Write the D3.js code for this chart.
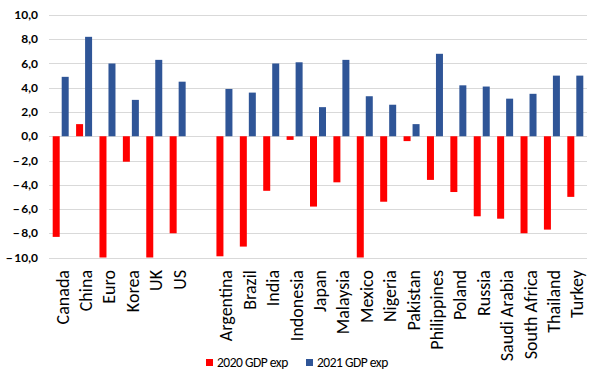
<!DOCTYPE html>
<html>
<head>
<meta charset="utf-8">
<script src="https://cdn.jsdelivr.net/npm/d3@7"></script>
<style>
  html, body { margin: 0; padding: 0; background: #fff; }
  svg { display: block; }
</style>
</head>
<body>
<svg id="chart" width="590" height="383"></svg>
<script>
const categories = ["Canada","China","Euro","Korea","UK","US","","Argentina","Brazil","India","Indonesia","Japan","Malaysia","Mexico","Nigeria","Pakistan","Philippines","Poland","Russia","Saudi Arabia","South Africa","Thailand","Turkey"];
const gdp2020 = [-8.3, 1.0, -10.0, -2.1, -10.0, -8.0, null, -9.9, -9.1, -4.5, -0.3, -5.8, -3.8, -10.0, -5.4, -0.4, -3.6, -4.6, -6.6, -6.8, -8.0, -7.7, -5.0];
const gdp2021 = [4.9, 8.2, 6.0, 3.0, 6.3, 4.5, null, 3.9, 3.6, 6.0, 6.1, 2.4, 6.3, 3.3, 2.6, 1.0, 6.8, 4.2, 4.1, 3.1, 3.5, 5.0, 5.0];
const seriesNames = ["2020 GDP exp", "2021 GDP exp"];
const seriesColors = ["#FF0000", "#2F5597"];
const yTicks = [-10, -8, -6, -4, -2, 0, 2, 4, 6, 8, 10];

const svg = d3.select("#chart");
const plotLeft = 49, plotRight = 587, plotTop = 15, plotBottom = 257.5;

const x0 = d3.scaleBand().domain(d3.range(categories.length)).range([plotLeft, plotRight])
  .paddingInner(0.316).paddingOuter(0.158);
const x1 = d3.scaleBand().domain([0, 1]).range([0, x0.bandwidth()]).paddingInner(0.222).paddingOuter(0);
const y = d3.scaleLinear().domain([-10, 10]).range([plotBottom, plotTop]);

// gridlines
svg.append("g").selectAll("line").data(yTicks).join("line")
  .attr("x1", plotLeft).attr("x2", plotRight)
  .attr("y1", d => Math.round(y(d)) + 0.5).attr("y2", d => Math.round(y(d)) + 0.5)
  .attr("stroke", "#D9D9D9").attr("stroke-width", 1);

// y labels
const fmt = v => (v < 0 ? "\u2212\u2009" : "") + Math.abs(v).toFixed(1).replace(".", ",");
svg.append("g").selectAll("text").data(yTicks).join("text")
  .attr("x", 38).attr("y", d => y(d)).attr("dy", "0.35em")
  .attr("text-anchor", "end")
  .attr("font-family", "Lato, 'Open Sans', sans-serif").attr("font-weight", "bold")
  .attr("font-size", 12).attr("fill", "#000")
  .text(fmt);

// bars
const series = [gdp2020, gdp2021];
series.forEach((vals, si) => {
  svg.append("g").selectAll("rect")
    .data(vals.map((v, i) => ({v, i})).filter(d => d.v !== null))
    .join("rect")
    .attr("x", d => x0(d.i) + x1(si))
    .attr("width", x1.bandwidth())
    .attr("y", d => y(Math.max(0, d.v)))
    .attr("height", d => Math.abs(y(d.v) - y(0)))
    .attr("fill", seriesColors[si]);
});

// category labels
svg.append("g").selectAll("text").data(categories.map((c, i) => ({c, i})).filter(d => d.c !== ""))
  .join("text")
  .attr("transform", d => `translate(${x0(d.i) + x0.bandwidth() / 2 + 8},270) rotate(-90)`)
  .attr("text-anchor", "end")
  .attr("font-family", "Carlito, Lato, sans-serif")
  .attr("font-size", 18).attr("fill", "#000")
  .text(d => d.c);

// legend
const legendX = [206, 306];
const lg = svg.append("g");
seriesNames.forEach((n, i) => {
  lg.append("rect").attr("x", legendX[i]).attr("y", 359).attr("width", 7).attr("height", 7).attr("fill", seriesColors[i]);
  lg.append("text").attr("x", legendX[i] + 11).attr("y", 367)
    .attr("font-family", "Carlito, Lato, sans-serif").attr("font-size", 13.5)
    .attr("letter-spacing", -0.5).attr("fill", "#000")
    .text(n);
});
</script>
</body>
</html>
